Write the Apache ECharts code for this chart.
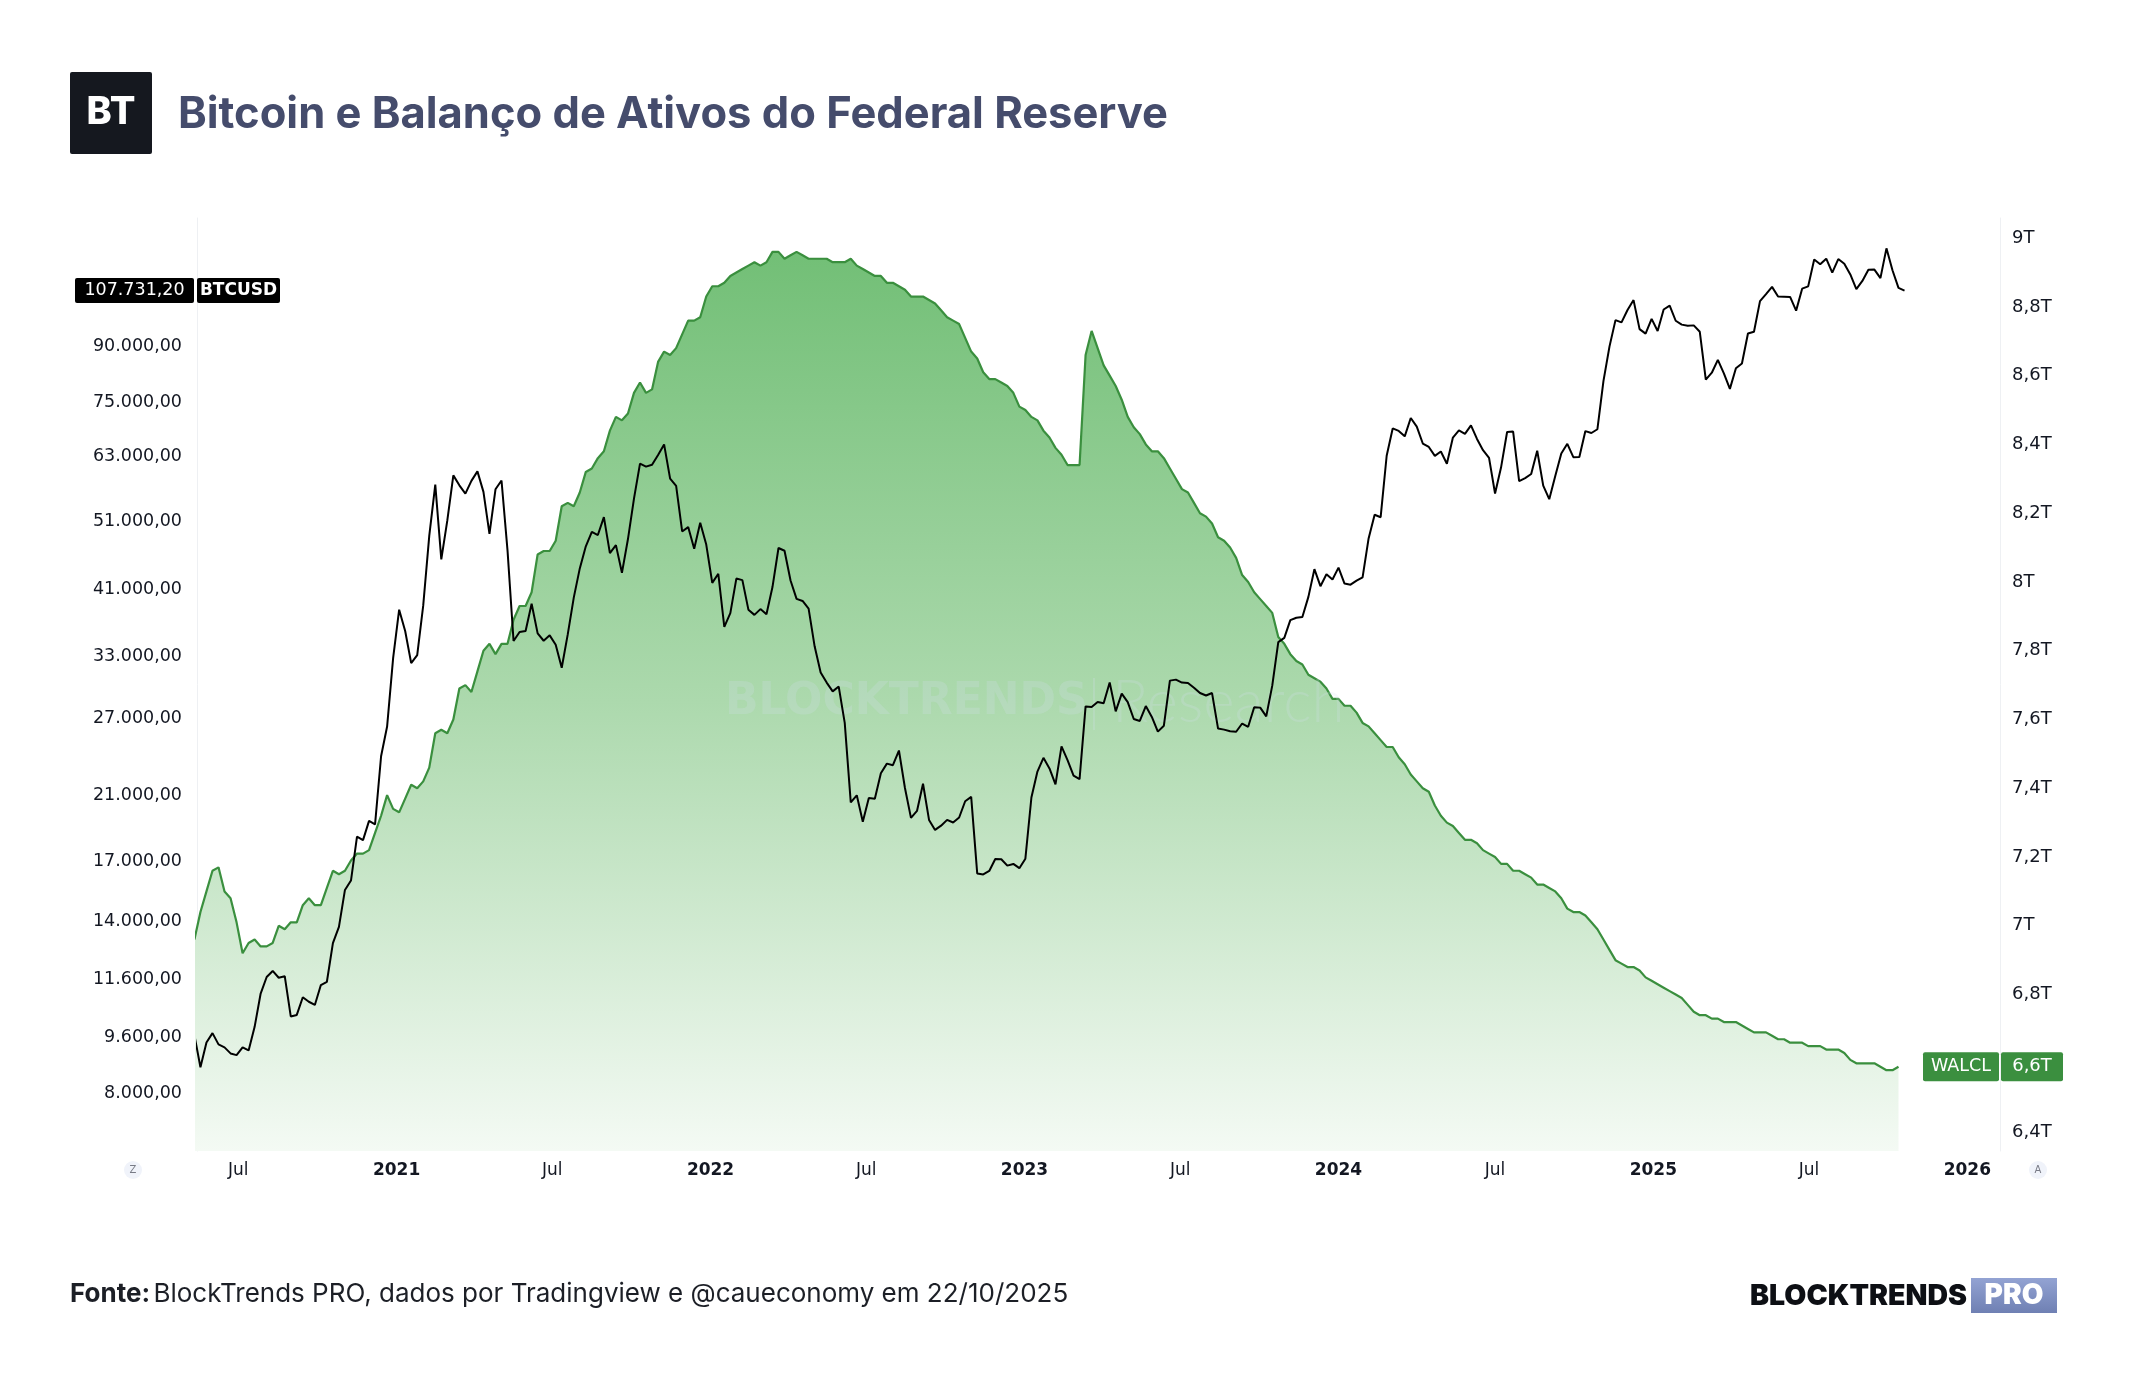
<!DOCTYPE html>
<html>
<head>
<meta charset="utf-8">
<title>Bitcoin e Balanço de Ativos do Federal Reserve</title>
<script src="https://cdn.jsdelivr.net/npm/echarts@6/dist/echarts.min.js"></script>
<style>
  html, body { margin: 0; padding: 0; background: #fff; }
  #main { width: 2144px; height: 1400px; }
</style>
</head>
<body>
<div id="main"></div>
<script>
// weekly bars (Monday), first one is the week of 2020-05-11
const firstWeek = '2020-05-11'

// BTCUSD weekly close
const btcClose = [
  9670, 8720, 9450, 9740, 9390, 9300, 9120, 9070, 9300, 9210,
  9940, 11070, 11680, 11910, 11650, 11710, 10280, 10330, 10940, 10780,
  10670, 11380, 11500, 13030, 13740, 15480, 15960, 18400, 18190, 19360,
  19140, 23860, 26270, 32780,
  // 2021
  38350, 35790, 32260, 33110, 38880, 48700, 57490, 45140, 51200, 59230,
  57350, 55820, 58190, 60000, 56150, 49000, 56620, 58250, 46430, 34650,
  35680, 35800, 39100, 35520, 34680, 35290, 34240, 31780, 35400, 39870,
  43830, 47080, 49320, 48830, 51750, 46060, 47260, 43210, 48200, 54940,
  61530, 60930, 61310, 63270, 65470, 58620, 57270, 49400, 50100, 46700,
  50800, 47350,
  // 2022
  41820, 43080, 36280, 37920, 42410, 42200, 38350, 37710, 38420, 37790,
  41260, 46820, 46410, 42150, 39720, 39450, 38470, 34060, 31300, 30290,
  29440, 29900, 26580, 20550, 21030, 19300, 20850, 20790, 22580, 23300,
  23180, 24310, 21530, 19550, 19990, 21830, 19420, 18800, 19060, 19420,
  19260, 19570, 20630, 20920, 16330, 16280, 16460, 17110, 17100, 16750,
  16840, 16610,
  // 2023
  17130, 20880, 22710, 23740, 22940, 21790, 24640, 23560, 22420, 22160,
  28040, 27990, 28450, 28330, 30300, 27590, 29230, 28430, 26920, 26750,
  28070, 27100, 25840, 26340, 30480, 30580, 30290, 30250, 29790, 29280,
  29050, 29280, 26100, 26010, 25870, 25830, 26530, 26250, 27970, 27930,
  27150, 29990, 34530, 35010, 37070, 37360, 37450, 39970, 43720, 41380,
  43010, 42280,
  // 2024
  43940, 41730, 41580, 42120, 42580, 48300, 52140, 51730, 63110, 68950,
  68390, 67210, 71330, 69360, 65660, 64940, 63100, 64000, 61500, 66940,
  68520, 67760, 69650, 66640, 64260, 62680, 55850, 60800, 68160, 68250,
  58120, 58710, 59490, 64160, 57300, 54840, 59130, 63580, 65600, 62820,
  62850, 68360, 67940, 68770, 80370, 89850, 97900, 97190, 101170, 104460,
  95100, 93720, 98310,
  // 2025
  94500, 101330, 102620, 97700, 96480, 96130, 96250, 94270, 80730, 82580,
  86080, 82390, 78370, 83760, 85080, 93750, 94280, 104120, 106470, 109020,
  105700, 105620, 105540, 100960, 108390, 109200, 119100, 117290, 119450, 114200,
  119300, 117480, 113500, 108240, 111140, 115270, 115310, 112160, 123500, 115070,
  108650, 107731.2
]

// WALCL (Fed total assets), trillions USD
const walclT = [
  6.96, 7.04, 7.10, 7.16, 7.17, 7.10, 7.08, 7.01, 6.92, 6.95,
  6.96, 6.94, 6.94, 6.95, 7.00, 6.99, 7.01, 7.01, 7.06, 7.08,
  7.06, 7.06, 7.11, 7.16, 7.15, 7.16, 7.19, 7.21, 7.21, 7.22,
  7.27, 7.32, 7.38, 7.34, 7.33, 7.37, 7.41, 7.40, 7.42, 7.46,
  7.56, 7.57, 7.56, 7.60, 7.69, 7.70, 7.68, 7.74, 7.80, 7.82,
  7.79, 7.82, 7.82, 7.89, 7.93, 7.93, 7.97, 8.08, 8.09, 8.09,
  8.12, 8.22, 8.23, 8.22, 8.26, 8.32, 8.33, 8.36, 8.38, 8.44,
  8.48, 8.47, 8.49, 8.55, 8.58, 8.55, 8.56, 8.64, 8.67, 8.66,
  8.68, 8.72, 8.76, 8.76, 8.77, 8.83, 8.86, 8.86, 8.87, 8.89,
  8.90, 8.91, 8.92, 8.93, 8.92, 8.93, 8.96, 8.96, 8.94, 8.95,
  8.96, 8.95, 8.94, 8.94, 8.94, 8.94, 8.93, 8.93, 8.93, 8.94,
  8.92, 8.91, 8.90, 8.89, 8.89, 8.87, 8.87, 8.86, 8.85, 8.83,
  8.83, 8.83, 8.82, 8.81, 8.79, 8.77, 8.76, 8.75, 8.71, 8.67,
  8.65, 8.61, 8.59, 8.59, 8.58, 8.57, 8.55, 8.51, 8.50, 8.48,
  8.47, 8.44, 8.42, 8.39, 8.37, 8.34, 8.34, 8.34, 8.66, 8.73,
  8.68, 8.63, 8.60, 8.57, 8.53, 8.48, 8.45, 8.43, 8.40, 8.38,
  8.38, 8.36, 8.33, 8.30, 8.27, 8.26, 8.23, 8.20, 8.19, 8.17,
  8.13, 8.12, 8.10, 8.07, 8.02, 8.00, 7.97, 7.95, 7.93, 7.91,
  7.84, 7.82, 7.79, 7.77, 7.76, 7.73, 7.72, 7.71, 7.69, 7.66,
  7.66, 7.64, 7.64, 7.62, 7.59, 7.58, 7.56, 7.54, 7.52, 7.52,
  7.49, 7.47, 7.44, 7.42, 7.40, 7.39, 7.35, 7.32, 7.30, 7.29,
  7.27, 7.25, 7.25, 7.24, 7.22, 7.21, 7.20, 7.18, 7.18, 7.16,
  7.16, 7.15, 7.14, 7.12, 7.12, 7.11, 7.10, 7.08, 7.05, 7.04,
  7.04, 7.03, 7.01, 6.99, 6.96, 6.93, 6.90, 6.89, 6.88, 6.88,
  6.87, 6.85, 6.84, 6.83, 6.82, 6.81, 6.80, 6.79, 6.77, 6.75,
  6.74, 6.74, 6.73, 6.73, 6.72, 6.72, 6.72, 6.71, 6.70, 6.69,
  6.69, 6.69, 6.68, 6.67, 6.67, 6.66, 6.66, 6.66, 6.65, 6.65,
  6.65, 6.64, 6.64, 6.64, 6.63, 6.61, 6.60, 6.60, 6.60, 6.60,
  6.59, 6.58, 6.58, 6.59
]

// tick labels
const btcTicks = [8000, 9600, 11600, 14000, 17000, 21000, 27000, 33000, 41000, 51000, 63000, 75000, 90000]
const walclTicks = [6.4, 6.8, 7, 7.2, 7.4, 7.6, 7.8, 8, 8.2, 8.4, 8.6, 8.8, 9] // 6,6T sits under the badge
const xTicks = ['2020-07-01', '2021-01-01', '2021-07-01', '2022-01-01', '2022-07-01', '2023-01-01',
  '2023-07-01', '2024-01-01', '2024-07-01', '2025-01-01', '2025-07-01', '2026-01-01']

const DAY = 864e5
const utc = s => { const p = s.split('-'); return Date.UTC(+p[0], +p[1] - 1, +p[2]) }
const t0 = utc(firstWeek)
const btcData = btcClose.map((v, i) => [t0 + i * 7 * DAY, v])
const walclData = walclT.map((v, i) => [t0 + i * 7 * DAY, v])

function fmtBR(v, dec) {
  const parts = v.toFixed(dec).split('.')
  const int = parts[0].replace(/\B(?=(\d{3})+(?!\d))/g, '.')
  return parts[1] ? int + ',' + parts[1] : int
}
const fmtT = v => String(+v.toFixed(1)).replace('.', ',') + 'T'

const AXIS_FONT = 'DejaVu Sans'
const chart = echarts.init(document.getElementById('main'))

const option = {
  animation: false,
  backgroundColor: '#ffffff',
  textStyle: { fontFamily: AXIS_FONT },
  grid: { left: 197, right: 144, top: 218, bottom: 249 },
  xAxis: {
    // timestamps on a plain value axis, so the label positions can be given directly
    type: 'value',
    min: utc('2020-05-14'),
    max: utc('2026-02-08'),
    axisLine: { show: false },
    axisTick: { show: false },
    splitLine: { show: false },
    axisLabel: {
      customValues: xTicks.map(utc),
      margin: 11,
      formatter: v => {
        const d = new Date(v)
        return d.getUTCMonth() === 0 ? '{y|' + d.getUTCFullYear() + '}' : '{m|Jul}'
      },
      rich: {
        y: { fontFamily: AXIS_FONT, fontSize: 17, fontWeight: 'bold', color: '#131722' },
        m: { fontFamily: AXIS_FONT, fontSize: 17, color: '#131722' }
      }
    }
  },
  yAxis: [
    {
      type: 'log',
      position: 'left',
      min: 6650,
      max: 136250,
      axisLine: { show: true, lineStyle: { color: '#eef0f3' } },
      axisTick: { show: false },
      splitLine: { show: false },
      axisLabel: {
        customValues: btcTicks,
        margin: 15,
        fontSize: 17.5,
        color: '#131722',
        formatter: v => fmtBR(v, 2)
      }
    },
    {
      type: 'value',
      position: 'right',
      min: 6.345,
      max: 9.0585,
      axisLine: { show: true, lineStyle: { color: '#eef0f3' } },
      axisTick: { show: false },
      splitLine: { show: false },
      axisLabel: {
        customValues: walclTicks,
        margin: 12,
        fontSize: 18,
        color: '#131722',
        formatter: fmtT
      }
    }
  ],
  series: [
    {
      name: 'WALCL',
      type: 'line',
      yAxisIndex: 1,
      data: walclData,
      showSymbol: false,
      z: 2,
      lineStyle: { color: '#3a8f3e', width: 2.2 },
      areaStyle: {
        origin: 'start',
        opacity: 1,
        color: new echarts.graphic.LinearGradient(0, 0, 0, 1, [
          { offset: 0, color: '#72bf76' },
          { offset: 0.5, color: '#acd9ad' },
          { offset: 1, color: '#f4faf4' }
        ])
      }
    },
    {
      name: 'BTCUSD',
      type: 'line',
      yAxisIndex: 0,
      data: btcData,
      showSymbol: false,
      z: 4,
      lineStyle: { color: '#000000', width: 2 }
    }
  ]
}
chart.setOption(option)

// price badges placed on the axes at the last values
const lastBtc = btcClose[btcClose.length - 1]
const lastWal = walclT[walclT.length - 1]
const yBtc = chart.convertToPixel({ yAxisIndex: 0 }, lastBtc)
const yWal = chart.convertToPixel({ yAxisIndex: 1 }, lastWal)

function box(x, y, w, h, fill, text, font, z) {
  return [
    { type: 'rect', z: z, shape: { x: x, y: y, width: w, height: h, r: 2 }, style: { fill: fill } },
    { type: 'text', z: z + 1, x: x + w / 2, y: y + h / 2,
      style: { text: text, fill: '#fff', font: font, align: 'center', verticalAlign: 'middle' } }
  ]
}

const WM = 'rgba(215,225,242,0.22)'
const graphic = [].concat(
  // logo + title
  box(70, 72, 82, 82, '#15181f', 'BT', '800 38px Inter', 10),
  [{
    type: 'text', x: 178, y: 115,
    style: { text: 'Bitcoin e Balanço de Ativos do Federal Reserve', fill: '#454c6c',
      font: '700 43.5px Inter', verticalAlign: 'middle' }
  }],
  // watermark
  [
    { type: 'text', z: 3, x: 725, y: 703,
      style: { text: 'BLOCKTRENDS', fill: WM, font: '900 44px "DejaVu Sans"', verticalAlign: 'middle' } },
    { type: 'rect', z: 3, shape: { x: 1093, y: 678, width: 2, height: 52 }, style: { fill: WM } },
    { type: 'text', z: 3, x: 1112, y: 703,
      style: { text: 'Research', fill: WM, font: '300 60px Lato', verticalAlign: 'middle' } }
  ],
  // axis badges
  box(75, yBtc - 12.5, 119, 25, '#000', fmtBR(lastBtc, 2), '17.5px "DejaVu Sans"', 20),
  box(197, yBtc - 12.5, 83, 25, '#000', 'BTCUSD', 'bold 17px "DejaVu Sans"', 20),
  box(1923, yWal - 14.5, 76, 29, '#3b8f3f', 'WALCL', '17.5px "DejaVu Sans"', 20),
  box(2001, yWal - 14.5, 62, 29, '#3b8f3f', fmtT(lastWal), '18px "DejaVu Sans"', 20),
  // little corner buttons
  [
    { type: 'circle', shape: { cx: 133, cy: 1170, r: 9 }, style: { fill: '#f0f3fa' } },
    { type: 'text', x: 133, y: 1170, style: { text: 'Z', fill: '#787b86', font: '10px "DejaVu Sans"', align: 'center', verticalAlign: 'middle' } },
    { type: 'circle', shape: { cx: 2038, cy: 1170, r: 9 }, style: { fill: '#f0f3fa' } },
    { type: 'text', x: 2038, y: 1170, style: { text: 'A', fill: '#787b86', font: '10px "DejaVu Sans"', align: 'center', verticalAlign: 'middle' } }
  ],
  // footer
  [{
    type: 'text', x: 70, y: 1294,
    style: {
      text: '{b|Fonte:} {r|BlockTrends PRO, dados por Tradingview e @caueconomy em 22/10/2025}',
      verticalAlign: 'middle',
      rich: {
        b: { font: '700 26px Inter', fill: '#1c1f26' },
        r: { font: '400 26px Inter', fill: '#1c1f26' }
      }
    }
  },
  { type: 'text', x: 1750, y: 1296,
    style: { text: 'BLOCKTRENDS', fill: '#0d0f14', font: '900 28.5px Inter', verticalAlign: 'middle' } },
  { type: 'rect', shape: { x: 1971, y: 1278, width: 86, height: 35 },
    style: { fill: new echarts.graphic.LinearGradient(0, 0, 0, 1, [
      { offset: 0, color: '#93a3d3' }, { offset: 1, color: '#6f80b3' }]) } },
  { type: 'text', x: 2014, y: 1296,
    style: { text: 'PRO', fill: '#fff', font: '900 28px Inter', align: 'center', verticalAlign: 'middle' } }]
)

chart.setOption({ graphic: graphic })
</script>
</body>
</html>
